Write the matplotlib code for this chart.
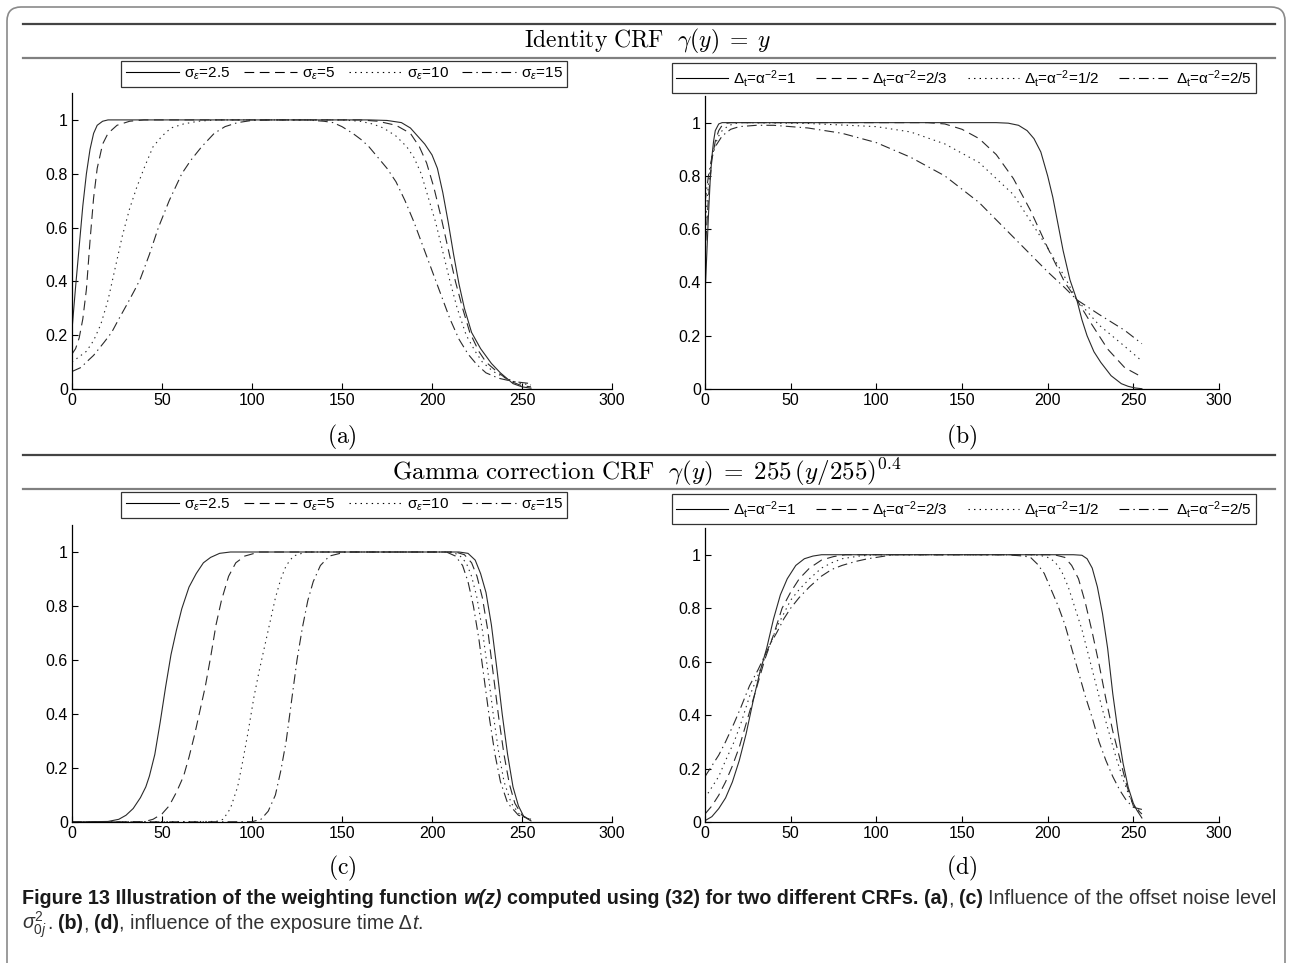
import matplotlib
matplotlib.use("Agg")
import matplotlib.pyplot as plt
import matplotlib.patches as mpatches
import matplotlib.transforms as mtransforms
from matplotlib.lines import Line2D

# ---- data ----
XTICKS = [0, 50, 100, 150, 200, 250, 300]
YTICKS = [0, 0.2, 0.4, 0.6, 0.8, 1.0]
YTICK_LABELS = ["0", "0.2", "0.4", "0.6", "0.8", "1"]

SIGMA_LABELS = ["σ$_{\\varepsilon}$=2.5", "σ$_{\\varepsilon}$=5",
                "σ$_{\\varepsilon}$=10", "σ$_{\\varepsilon}$=15"]
DT_LABELS = ["Δ$_{\\mathrm{t}}$=α$^{-2}$=1", "Δ$_{\\mathrm{t}}$=α$^{-2}$=2/3",
             "Δ$_{\\mathrm{t}}$=α$^{-2}$=1/2", "Δ$_{\\mathrm{t}}$=α$^{-2}$=2/5"]

# (a) identity CRF, offset noise level
a1_x = [0, 2, 4, 6, 8, 10, 12, 14, 17, 20, 165, 175, 183, 188, 192, 196, 200, 203, 206, 209,
        212, 215, 218, 222, 227, 233, 238, 245, 250, 255]
a1_y = [0.22, 0.38, 0.53, 0.68, 0.8, 0.89, 0.95, 0.98, 0.995, 1.0, 1.0, 0.998, 0.99, 0.97, 0.94,
        0.91, 0.87, 0.82, 0.73, 0.62, 0.5, 0.39, 0.3, 0.21, 0.15, 0.095, 0.06, 0.02, 0.008, 0.003]
a2_x = [0, 2, 4, 6, 8, 10, 12, 14, 17, 20, 25, 32, 40, 160, 170, 180, 188, 193, 197, 201, 205,
        209, 213, 217, 221, 226, 230, 236, 243, 250, 255]
a2_y = [0.13, 0.15, 0.19, 0.26, 0.37, 0.55, 0.71, 0.82, 0.91, 0.95, 0.98, 0.995, 1.0, 1.0, 0.995,
        0.98, 0.95, 0.9, 0.84, 0.75, 0.64, 0.52, 0.4, 0.3, 0.21, 0.14, 0.1, 0.065, 0.03, 0.012,
        0.008]
a3_x = [0, 4, 8, 12, 16, 20, 24, 28, 32, 36, 40, 45, 50, 55, 62, 70, 80, 150, 160, 167, 173,
        180, 186, 190, 194, 198, 202, 206, 210, 214, 219, 224, 228, 234, 241, 248, 255]
a3_y = [0.1, 0.12, 0.14, 0.18, 0.24, 0.33, 0.45, 0.57, 0.67, 0.75, 0.82, 0.9, 0.94, 0.97, 0.985,
        0.995, 1.0, 1.0, 0.995, 0.985, 0.97, 0.94, 0.9, 0.86, 0.8, 0.71, 0.62, 0.51, 0.4, 0.3,
        0.2, 0.14, 0.1, 0.065, 0.04, 0.022, 0.015]
a4_x = [0, 5, 8, 12, 15, 18, 22, 26, 31, 35, 38, 43, 48, 54, 61, 66, 72, 79, 85, 92, 100, 110,
        130, 140, 145, 150, 156, 161, 165, 170, 175, 180, 185, 190, 195, 200, 205, 210, 215,
        220, 225, 230, 237, 245, 255]
a4_y = [0.065, 0.08, 0.1, 0.125, 0.15, 0.175, 0.21, 0.26, 0.32, 0.37, 0.41, 0.5, 0.6, 0.7, 0.8,
        0.85, 0.9, 0.95, 0.975, 0.99, 0.998, 1.0, 1.0, 0.995, 0.99, 0.975, 0.95, 0.925, 0.9,
        0.86, 0.82, 0.77, 0.7, 0.62, 0.53, 0.44, 0.35, 0.26, 0.185, 0.13, 0.09, 0.06, 0.04,
        0.028, 0.02]

# (b) identity CRF, exposure time
b1_x = [0, 1, 2, 3, 4, 5, 6, 8, 10, 170, 177, 183, 188, 192, 196, 200, 203, 206, 209, 213, 217,
        220, 223, 227, 231, 237, 243, 247, 251, 255]
b1_y = [0.35, 0.5, 0.65, 0.78, 0.87, 0.93, 0.97, 0.995, 1.0, 1.0, 0.998, 0.99, 0.97, 0.94, 0.89,
        0.8, 0.72, 0.62, 0.52, 0.41, 0.335, 0.26, 0.2, 0.14, 0.1, 0.05, 0.02, 0.01, 0.004, 0.001]
b2_x = [0, 2, 4, 6, 8, 10, 12, 15, 130, 140, 150, 160, 170, 180, 190, 200, 210, 217, 225, 235,
        245, 255]
b2_y = [0.5, 0.72, 0.86, 0.93, 0.97, 0.99, 0.997, 1.0, 1.0, 0.995, 0.975, 0.94, 0.88, 0.79, 0.67,
        0.53, 0.4, 0.335, 0.25, 0.15, 0.08, 0.045]
b3_x = [0, 2, 4, 6, 8, 10, 14, 20, 60, 100, 120, 140, 160, 180, 200, 210, 217, 230, 245, 255]
b3_y = [0.6, 0.77, 0.87, 0.92, 0.95, 0.97, 0.99, 1.0, 0.997, 0.985, 0.965, 0.92, 0.85, 0.73, 0.53,
        0.42, 0.335, 0.24, 0.16, 0.105]
b4_x = [0, 2, 4, 6, 10, 15, 20, 30, 40, 60, 80, 100, 120, 140, 160, 180, 200, 210, 217, 230, 245,
        255]
b4_y = [0.7, 0.8, 0.87, 0.91, 0.95, 0.975, 0.985, 0.99, 0.99, 0.98, 0.96, 0.925, 0.87, 0.8, 0.7,
        0.57, 0.44, 0.38, 0.335, 0.28, 0.22, 0.17]

# (c) gamma CRF, offset noise level
c1_x = [0, 20, 26, 30, 34, 38, 41, 43, 46, 49, 52, 55, 58, 61, 65, 69, 73, 77, 82, 88, 215, 220,
        224, 227, 230, 233, 236, 239, 242, 245, 248, 251, 255]
c1_y = [0, 0.002, 0.01, 0.025, 0.05, 0.09, 0.13, 0.17, 0.25, 0.37, 0.5, 0.62, 0.71, 0.79, 0.87,
        0.92, 0.96, 0.98, 0.995, 1.0, 1.0, 0.995, 0.97, 0.92, 0.85, 0.73, 0.57, 0.4, 0.25, 0.13,
        0.06, 0.02, 0.004]
c2_x = [0, 40, 45, 50, 54, 58, 62, 65, 68, 71, 74, 77, 80, 83, 87, 91, 96, 104, 213, 218, 222,
        225, 228, 231, 234, 237, 240, 243, 246, 250, 255]
c2_y = [0, 0.001, 0.01, 0.03, 0.06, 0.11, 0.17, 0.24, 0.32, 0.41, 0.5, 0.61, 0.73, 0.82, 0.91,
        0.96, 0.985, 1.0, 1.0, 0.99, 0.96, 0.91, 0.83, 0.71, 0.55, 0.39, 0.25, 0.14, 0.07, 0.025,
        0.006]
c3_x = [0, 80, 84, 88, 92, 95, 98, 101, 104, 107, 110, 113, 116, 119, 123, 130, 210, 215, 219,
        222, 225, 228, 231, 234, 237, 240, 244, 249, 255]
c3_y = [0, 0.002, 0.01, 0.05, 0.13, 0.23, 0.34, 0.46, 0.56, 0.65, 0.74, 0.83, 0.9, 0.95, 0.985,
        1.0, 1.0, 0.99, 0.96, 0.91, 0.83, 0.71, 0.56, 0.4, 0.26, 0.15, 0.07, 0.025, 0.008]
c4_x = [0, 100, 105, 109, 113, 116, 119, 122, 125, 128, 131, 134, 138, 143, 152, 208, 213, 217,
        220, 223, 226, 229, 232, 235, 238, 242, 248, 255]
c4_y = [0, 0.001, 0.01, 0.04, 0.1, 0.19, 0.3, 0.45, 0.6, 0.72, 0.82, 0.89, 0.95, 0.985, 1.0, 1.0,
        0.985, 0.95, 0.89, 0.8, 0.68, 0.53, 0.38, 0.25, 0.15, 0.07, 0.025, 0.01]

# (d) gamma CRF, exposure time
d1_x = [0, 4, 8, 12, 16, 20, 24, 28, 32, 36, 40, 44, 48, 53, 58, 63, 68, 215, 220, 223, 226, 229,
        232, 235, 238, 241, 244, 247, 250, 252, 255]
d1_y = [0.005, 0.02, 0.05, 0.09, 0.15, 0.23, 0.33, 0.45, 0.56, 0.65, 0.76, 0.85, 0.91, 0.96,
        0.985, 0.995, 1.0, 1.0, 0.998, 0.985, 0.95, 0.88, 0.78, 0.65, 0.48, 0.34, 0.22, 0.13,
        0.07, 0.045, 0.015]
d2_x = [0, 4, 8, 12, 16, 20, 25, 30, 35, 40, 45, 50, 55, 61, 68, 75, 82, 200, 205, 210, 214, 218,
        222, 226, 230, 234, 238, 242, 246, 250, 255]
d2_y = [0.03, 0.06, 0.1, 0.15, 0.21, 0.28, 0.39, 0.5, 0.61, 0.7, 0.8, 0.86, 0.91, 0.95, 0.98,
        0.993, 1.0, 1.0, 0.998, 0.99, 0.96, 0.91, 0.82, 0.71, 0.59, 0.46, 0.34, 0.24, 0.14, 0.06,
        0.03]
d3_x = [0, 4, 8, 12, 17, 21, 26, 31, 38, 42, 46, 50, 55, 61, 68, 74, 80, 90, 100, 190, 196, 200,
        204, 208, 212, 216, 220, 224, 228, 232, 236, 240, 244, 248, 251, 255]
d3_y = [0.09, 0.13, 0.17, 0.23, 0.3, 0.37, 0.47, 0.55, 0.665, 0.73, 0.78, 0.83, 0.87, 0.91, 0.95,
        0.97, 0.985, 0.995, 1.0, 1.0, 0.997, 0.99, 0.975, 0.94, 0.88, 0.8, 0.72, 0.62, 0.52, 0.42,
        0.33, 0.24, 0.16, 0.09, 0.055, 0.036]
d4_x = [0, 4, 8, 12, 17, 21, 26, 31, 38, 42, 46, 50, 55, 61, 68, 74, 80, 88, 95, 110, 175, 182,
        186, 190, 194, 198, 202, 206, 210, 214, 218, 222, 226, 230, 234, 238, 242, 246, 250, 255]
d4_y = [0.17, 0.21, 0.25, 0.3, 0.37, 0.43, 0.51, 0.57, 0.665, 0.71, 0.76, 0.8, 0.84, 0.88, 0.92,
        0.945, 0.96, 0.975, 0.985, 1.0, 1.0, 0.997, 0.995, 0.99, 0.965, 0.93, 0.87, 0.81, 0.74,
        0.65, 0.56, 0.47, 0.39, 0.3, 0.23, 0.17, 0.12, 0.08, 0.055, 0.047]

# ---- styling ----
W, H = 1292, 963
plt.rcParams["font.family"] = ["Liberation Sans", "DejaVu Sans"]
plt.rcParams["mathtext.fontset"] = "custom"
plt.rcParams["mathtext.rm"] = "Liberation Sans"
plt.rcParams["mathtext.it"] = "Liberation Sans:italic"
plt.rcParams["mathtext.bf"] = "Liberation Sans:bold"
plt.rcParams["lines.scale_dashes"] = False

LINE_C = "#2a2a2a"
STYLES = ["-", (0, (7, 4)), (0, (1, 3)), (0, (7, 3, 1, 3))]


def px_axes(fig, left, top, right, bottom):
    # axes rectangle given in pixel coords measured from top-left
    return fig.add_axes([left / W, 1 - bottom / H, (right - left) / W, (bottom - top) / H])


def style_axes(ax):
    ax.set_xlim(0, 300)
    ax.set_ylim(0, 1.1)
    ax.set_xticks(XTICKS)
    ax.set_xticklabels([str(t) for t in XTICKS])
    ax.set_yticks(YTICKS)
    ax.set_yticklabels(YTICK_LABELS)
    for s in ["top", "right"]:
        ax.spines[s].set_visible(False)
    for s in ["left", "bottom"]:
        ax.spines[s].set_linewidth(0.9)
    ax.tick_params(direction="in", length=4, width=0.8, labelsize=11.5, pad=3)
    ax.patch.set_alpha(0)


def draw_panel(fig, box, series, labels, leg_center, leg_kw, tag, tag_y):
    ax = px_axes(fig, *box)
    style_axes(ax)
    handles = []
    for (xs, ys), ls in zip(series, STYLES):
        ax.plot(xs, ys, color=LINE_C, lw=0.8, linestyle=ls)
        handles.append(Line2D([], [], color="black", lw=0.8, linestyle=ls))
    leg = ax.legend(handles, labels, loc="center", ncol=4,
                    bbox_to_anchor=(leg_center[0] / W, 1 - leg_center[1] / H),
                    bbox_transform=fig.transFigure, frameon=True, fancybox=False,
                    edgecolor="black", fontsize=11, borderpad=0.3,
                    **leg_kw)
    leg.get_frame().set_linewidth(0.9)
    cx = (box[0] + box[2]) / 2
    fig.text(cx / W, 1 - tag_y / H, r"$\mathrm{(%s)}$" % tag, ha="center", va="center",
             fontsize=17, math_fontfamily="cm")
    return ax


fig = plt.figure(figsize=(W / 100, H / 100), dpi=100)

# rounded outer frame
frame = mpatches.FancyBboxPatch((7, -60), 1278, H - 7 + 60,
                                boxstyle="round,pad=0,rounding_size=14",
                                transform=mtransforms.IdentityTransform(),
                                fill=False, edgecolor="#8a8a8a", lw=1.2)
fig.add_artist(frame)


def hline(y, color, lw):
    fig.add_artist(Line2D([23 / W, 1275 / W], [1 - y / H, 1 - y / H],
                          transform=fig.transFigure, color=color, lw=lw))


def header(y1, y2, text, size):
    hline(y1, "#444444", 1.6)
    hline(y2, "#808080", 1.6)
    fig.text(647 / W, 1 - (y1 + y2) / 2 / H, text, ha="center", va="center",
             fontsize=size, math_fontfamily="cm")


header(24, 58, r"$\mathrm{Identity\ CRF}\ \ \gamma(y)\;=\;y$", 17)
header(455, 489,
       r"$\mathrm{Gamma\ correction\ CRF}\ \ \gamma(y)\;=\;255\,\left(y/255\right)^{0.4}$", 18)

sig_kw = dict(handlelength=3.5, handletextpad=0.3, columnspacing=0.9)
dt_kw = dict(handlelength=3.4, handletextpad=0.3, columnspacing=1.3)

draw_panel(fig, (72, 93, 612, 389), [(a1_x, a1_y), (a2_x, a2_y), (a3_x, a3_y), (a4_x, a4_y)],
           SIGMA_LABELS, (344, 74), sig_kw, "a", 437)
draw_panel(fig, (705, 96, 1219, 389), [(b1_x, b1_y), (b2_x, b2_y), (b3_x, b3_y), (b4_x, b4_y)],
           DT_LABELS, (964, 78), dt_kw, "b", 437)
draw_panel(fig, (72, 525, 612, 822), [(c1_x, c1_y), (c2_x, c2_y), (c3_x, c3_y), (c4_x, c4_y)],
           SIGMA_LABELS, (344, 505), sig_kw, "c", 868)
draw_panel(fig, (705, 528, 1219, 822), [(d1_x, d1_y), (d2_x, d2_y), (d3_x, d3_y), (d4_x, d4_y)],
           DT_LABELS, (964, 509), dt_kw, "d", 868)

# ---- caption, assembled from pieces of mixed weight ----
CAP_FONT = ["Liberation Sans", "DejaVu Sans"]
renderer = fig.canvas.get_renderer()


def text_width(s, **kw):
    t = fig.text(0, 0, s, **kw)
    w = t.get_window_extent(renderer).width
    t.remove()
    return w


def caption_line(x, y, pieces, size=14.2):
    for s, kw in pieces:
        props = dict(family=CAP_FONT, fontsize=size, color="#1a1a1a")
        props.update(kw)
        lead = len(s) - len(s.lstrip(" "))
        trail = len(s) - len(s.rstrip(" "))
        sp = text_width("x x", **props) - text_width("xx", **props)
        x += lead * sp
        core = s.strip(" ")
        if core:
            t = fig.text(x / W, 1 - y / H, core, ha="left", va="baseline", **props)
            x += t.get_window_extent(renderer).width
        x += trail * sp


B = dict(weight="bold")
BI = dict(weight="bold", style="italic")
N = dict(color="#333333")
I = dict(style="italic", color="#333333")

caption_line(22, 904, [
    ("Figure 13 Illustration of the weighting function ", B), ("w(z)", BI),
    (" computed using (32) for two different CRFs. (a)", B), (", ", N), ("(c)", B),
    (" Influence of the offset noise level", N)])
caption_line(22, 929, [
    (r"$\sigma^{2}_{\mathrm{0}j}$", N), (". ", N), ("(b)", B), (", ", N), ("(d)", B),
    (", influence of the exposure time Δ", N), ("t", I), (".", N)])

fig.savefig("out.png", dpi=100)
